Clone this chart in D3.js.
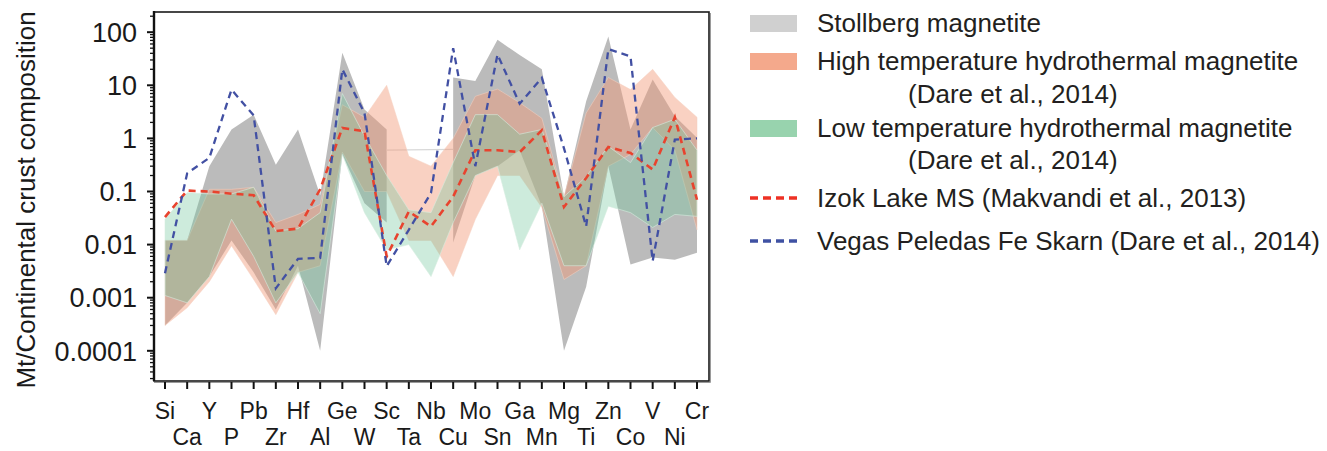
<!DOCTYPE html>
<html>
<head>
<meta charset="utf-8">
<script src="https://cdn.jsdelivr.net/npm/d3@7"></script>
<style>
  html, body { margin: 0; padding: 0; background: #fff; }
  svg { display: block; font-family: "Liberation Sans", Arial, Helvetica, sans-serif; }
</style>
</head>
<body>
<svg id="chart" width="1327" height="451"></svg>
<script>
// ---------------- data ----------------
const categories = ["Si","Ca","Y","P","Pb","Zr","Hf","Al","Ge","W","Sc","Ta","Nb","Cu","Mo","Sn","Ga","Mn","Mg","Ti","Zn","Co","V","Ni","Cr"];

const stollbergLow  = [0.0003,0.0008,0.0025,0.012,0.003,0.0006,0.004,0.0001,0.5,0.06,0.026,null,null,0.011,0.2,0.3,0.6,0.053,0.0001,0.0016,0.3,0.0042,0.0057,0.0052,0.007];
const stollbergHigh = [0.012,0.012,0.3,1.47,2.8,0.32,1.47,0.085,41,3.5,1.47,null,null,14,12,72,37,20,0.08,5,83,1.47,12.8,2.6,1.03];
const stollbergGap  = [["Sc",0.6],["Cu",0.62]];

const highTLow  = [0.0003,0.00065,0.002,0.0095,0.0022,0.00048,0.003,0.004,0.55,0.1,0.1,0.012,0.012,0.0025,0.03,0.2,0.2,0.05,0.0022,0.004,0.3,0.5,1.6,0.6,0.019];
const highTHigh = [0.012,0.012,0.11,0.11,0.12,0.026,0.037,0.057,4.3,2.5,10,0.46,0.3,1.0,6.2,8.5,4.7,2.4,0.08,3,14,8.3,20,5.9,2.5];

const lowTLow  = [0.0011,0.0008,0.0025,0.03,0.006,0.0008,0.003,0.0005,0.5,0.04,0.008,0.01,0.0025,0.026,0.2,0.3,0.008,0.06,0.004,0.004,0.053,0.04,0.021,0.037,0.034];
const lowTHigh = [0.03,0.095,0.09,0.09,0.12,0.018,0.02,0.04,7,1.1,0.2,0.045,0.04,0.35,2.8,2.8,1.2,1.47,0.08,0.19,0.71,0.35,1.6,2.3,0.6];

const izokLake = [0.033,0.104,0.1,0.091,0.085,0.018,0.02,0.11,1.58,1.36,0.006,0.042,0.022,0.08,0.6,0.6,0.55,1.42,0.051,0.18,0.69,0.53,0.26,2.5,0.07];
const vegasPeledas = [0.0029,0.22,0.43,8.3,2.7,0.0015,0.0054,0.0056,20,3,0.0039,0.019,0.094,50,0.3,38,4.5,13.8,0.65,0.022,48,35,0.0049,0.95,1.0];

const yTickValues = [100,10,1,0.1,0.01,0.001,0.0001];
const yTickLabels = ["100","10","1","0.1","0.01","0.001","0.0001"];

const legendItems = [
  {type:"rect", color:"#d0d0d0", lines:["Stollberg magnetite"]},
  {type:"rect", color:"#f4a98c", lines:["High temperature hydrothermal magnetite","(Dare et al., 2014)"]},
  {type:"rect", color:"#98d3ae", lines:["Low temperature hydrothermal magnetite","(Dare et al., 2014)"]},
  {type:"line", color:"#ee3124", lines:["Izok Lake MS (Makvandi et al., 2013)"]},
  {type:"line", color:"#3f51a3", lines:["Vegas Peledas Fe Skarn (Dare et al., 2014)"]}
];

// ---------------- layout ----------------
const svg = d3.select("#chart");
const pL = 154, pR = 709, pT = 12, pB = 381;

const x = d3.scalePoint().domain(categories).range([165, 697]);
const y = d3.scaleLog().domain([2.7e-5, 240]).range([pB, pT]);

function bandData(lo, hi) {
  return categories.map((c, i) => ({c, lo: lo[i], hi: hi[i]}));
}
const area = d3.area()
  .defined(d => d.lo != null && d.hi != null)
  .x(d => x(d.c)).y0(d => y(d.lo)).y1(d => y(d.hi));

const plot = svg.append("g");

// Stollberg band
plot.append("path").datum(bandData(stollbergLow, stollbergHigh))
  .attr("d", area).attr("fill", "#b9b9b9").attr("fill-opacity", 0.97);
plot.append("path").datum(stollbergGap)
  .attr("d", d3.line().x(d => x(d[0])).y(d => y(d[1])))
  .attr("fill", "none").attr("stroke", "#d8d8d8").attr("stroke-width", 1.2);

// High temperature band
plot.append("path").datum(bandData(highTLow, highTHigh))
  .attr("d", area).attr("fill", "#f29a78").attr("fill-opacity", 0.45)
  .attr("stroke", "#f6d2c2").attr("stroke-opacity", 0.5).attr("stroke-width", 1);

// Low temperature band
plot.append("path").datum(bandData(lowTLow, lowTHigh))
  .attr("d", area).attr("fill", "#74c79e").attr("fill-opacity", 0.36)
  .attr("stroke", "#d6ecdf").attr("stroke-opacity", 0.6).attr("stroke-width", 1);

const line = d3.line().x((d, i) => x(categories[i])).y(d => y(d));

plot.append("path").datum(izokLake)
  .attr("d", line).attr("fill", "none")
  .attr("stroke", "#e8432e").attr("stroke-width", 2.6)
  .attr("stroke-dasharray", "7,5");

plot.append("path").datum(vegasPeledas)
  .attr("d", line).attr("fill", "none")
  .attr("stroke", "#4250a3").attr("stroke-width", 2.3)
  .attr("stroke-dasharray", "7,5");

// ---------------- frame & axes ----------------
svg.append("rect")
  .attr("x", pL).attr("y", pT)
  .attr("width", pR - pL).attr("height", pB - pT)
  .attr("fill", "none").attr("stroke", "#1a1a1a").attr("stroke-width", 1.6);
svg.append("line").attr("x1", pR + 1.5).attr("x2", pR + 1.5)
  .attr("y1", pT + 1).attr("y2", pB + 1.5)
  .attr("stroke", "#9a9a9a").attr("stroke-width", 1);
svg.append("line").attr("x1", pL).attr("x2", pR + 1.5)
  .attr("y1", pB + 1.5).attr("y2", pB + 1.5)
  .attr("stroke", "#9a9a9a").attr("stroke-width", 1);

// y axis
const yAxisG = svg.append("g").attr("transform", `translate(${pL},0)`);
const minorTicks = y.ticks().filter(v => !yTickValues.includes(v));
yAxisG.selectAll("line.minor").data(minorTicks).join("line")
  .attr("class", "minor")
  .attr("x1", -4).attr("x2", 0)
  .attr("y1", d => y(d)).attr("y2", d => y(d))
  .attr("stroke", "#111").attr("stroke-width", 1.3);
yAxisG.selectAll("line.major").data(yTickValues).join("line")
  .attr("class", "major")
  .attr("x1", -7).attr("x2", 0)
  .attr("y1", d => y(d)).attr("y2", d => y(d))
  .attr("stroke", "#111").attr("stroke-width", 2);
yAxisG.append("line").attr("x1", 0).attr("x2", 0).attr("y1", pT - 1).attr("y2", pB)
  .attr("stroke", "#111").attr("stroke-width", 2.4);
yAxisG.selectAll("text").data(yTickValues).join("text")
  .attr("x", -17).attr("y", d => y(d)).attr("dy", "0.36em")
  .attr("text-anchor", "end").attr("font-size", 27).attr("fill", "#1a1a1a")
  .text((d, i) => yTickLabels[i]);

// x axis
const xAxisG = svg.append("g");
xAxisG.selectAll("line").data(categories).join("line")
  .attr("x1", d => x(d)).attr("x2", d => x(d))
  .attr("y1", pB + 1).attr("y2", pB + 8)
  .attr("stroke", "#111").attr("stroke-width", 2);
xAxisG.selectAll("text").data(categories).join("text")
  .attr("x", d => x(d))
  .attr("y", (d, i) => i % 2 === 0 ? 419 : 445)
  .attr("text-anchor", "middle").attr("font-size", 23).attr("fill", "#1a1a1a")
  .text(d => d);

// y title
svg.append("text")
  .attr("transform", "translate(35,200) rotate(-90)")
  .attr("text-anchor", "middle").attr("font-size", 26).attr("fill", "#1a1a1a")
  .text("Mt/Continental crust composition");

// ---------------- legend ----------------
const lg = svg.append("g");
const rowY = [23, 61, 128, 198, 241];
const contY = [null, 103, 169, null, null];
legendItems.forEach((it, i) => {
  const cy = rowY[i];
  if (it.type === "rect") {
    lg.append("rect").attr("x", 750).attr("y", cy - 8).attr("width", 47).attr("height", 17)
      .attr("fill", it.color);
  } else {
    lg.append("line").attr("x1", 750).attr("x2", 797).attr("y1", cy).attr("y2", cy)
      .attr("stroke", it.color).attr("stroke-width", 3.5).attr("stroke-dasharray", "8,5");
  }
  lg.append("text").attr("x", 817).attr("y", cy + 9)
    .attr("font-size", 26).attr("fill", "#231f20").text(it.lines[0]);
  if (it.lines[1]) {
    lg.append("text").attr("x", 908).attr("y", contY[i])
      .attr("font-size", 26).attr("fill", "#231f20").text(it.lines[1]);
  }
});
</script>
</body>
</html>
